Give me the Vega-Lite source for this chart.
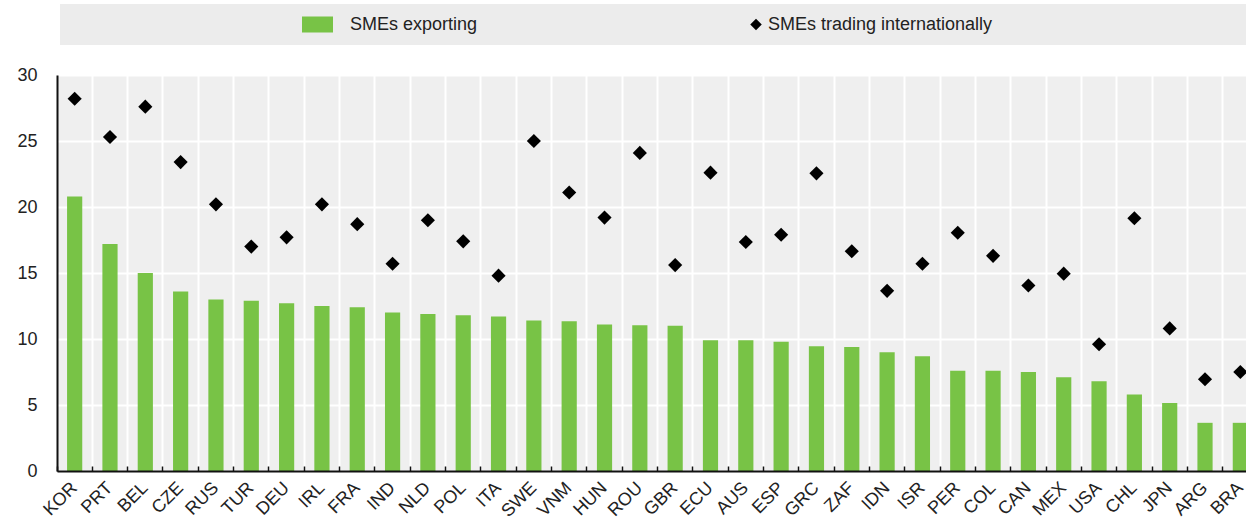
{
  "$schema": "https://vega.github.io/schema/vega-lite/v6.json",
  "width": 1189,
  "height": 396,
  "autosize": {"type": "none"},
  "padding": {"left": 57, "top": 75, "right": 0, "bottom": 51},
  "background": "white",
  "config": {
    "view": {"fill": "#efefef", "stroke": null},
    "font": "Liberation Sans",
    "axis": {"labelFont": "Liberation Sans", "labelFontSize": 18, "labelColor": "#222222", "title": null}
  },
  "data": {
    "values": [
      {"country": "KOR", "exporting": 20.8, "trading": 28.2},
      {"country": "PRT", "exporting": 17.2, "trading": 25.3},
      {"country": "BEL", "exporting": 15.0, "trading": 27.6},
      {"country": "CZE", "exporting": 13.6, "trading": 23.4},
      {"country": "RUS", "exporting": 13.0, "trading": 20.2},
      {"country": "TUR", "exporting": 12.9, "trading": 17.0},
      {"country": "DEU", "exporting": 12.7, "trading": 17.7},
      {"country": "IRL", "exporting": 12.5, "trading": 20.2},
      {"country": "FRA", "exporting": 12.4, "trading": 18.7},
      {"country": "IND", "exporting": 12.0, "trading": 15.7},
      {"country": "NLD", "exporting": 11.9, "trading": 19.0},
      {"country": "POL", "exporting": 11.8, "trading": 17.4},
      {"country": "ITA", "exporting": 11.7, "trading": 14.8},
      {"country": "SWE", "exporting": 11.4, "trading": 25.0},
      {"country": "VNM", "exporting": 11.35, "trading": 21.1},
      {"country": "HUN", "exporting": 11.1, "trading": 19.2},
      {"country": "ROU", "exporting": 11.05, "trading": 24.1},
      {"country": "GBR", "exporting": 11.0, "trading": 15.6},
      {"country": "ECU", "exporting": 9.9, "trading": 22.6},
      {"country": "AUS", "exporting": 9.9, "trading": 17.35},
      {"country": "ESP", "exporting": 9.8, "trading": 17.9},
      {"country": "GRC", "exporting": 9.45, "trading": 22.55},
      {"country": "ZAF", "exporting": 9.4, "trading": 16.65},
      {"country": "IDN", "exporting": 9.0, "trading": 13.65},
      {"country": "ISR", "exporting": 8.7, "trading": 15.7},
      {"country": "PER", "exporting": 7.6, "trading": 18.05},
      {"country": "COL", "exporting": 7.6, "trading": 16.3},
      {"country": "CAN", "exporting": 7.5, "trading": 14.05},
      {"country": "MEX", "exporting": 7.1, "trading": 14.95},
      {"country": "USA", "exporting": 6.8, "trading": 9.6},
      {"country": "CHL", "exporting": 5.8, "trading": 19.15},
      {"country": "JPN", "exporting": 5.15, "trading": 10.8},
      {"country": "ARG", "exporting": 3.65, "trading": 6.95},
      {"country": "BRA", "exporting": 3.65, "trading": 7.5}
    ]
  },
  "encoding": {
    "x": {
      "field": "country",
      "type": "nominal",
      "sort": null,
      "scale": {"range": [0, 1201], "paddingInner": 0, "paddingOuter": 0},
      "axis": {
        "bandPosition": 0,
        "grid": true,
        "gridColor": "white",
        "gridWidth": 2,
        "gridOpacity": {"condition": {"test": "datum.value === 'KOR'", "value": 0}, "value": 1},
        "domain": true,
        "domainColor": "#111111",
        "domainWidth": 2,
        "ticks": true,
        "tickColor": "#111111",
        "tickSize": -5,
        "tickWidth": 1.5,
        "labelAngle": -45,
        "labelAlign": "right",
        "labelBaseline": "middle",
        "labelPadding": 19,
        "labelOffset": 0,
        "labelOverlap": false,
        "zindex": 1
      }
    }
  },
  "layer": [
    {
      "mark": {"type": "bar", "width": {"band": 0.43}},
      "encoding": {
        "y": {
          "field": "exporting",
          "type": "quantitative",
          "scale": {"domain": [0, 30], "nice": false},
          "axis": {
            "values": [0, 5, 10, 15, 20, 25, 30],
            "grid": true,
            "gridColor": "white",
            "gridWidth": 2,
            "domain": true,
            "domainColor": "#111111",
            "domainWidth": 2,
            "ticks": false,
            "tickSize": 0,
            "labelPadding": 20,
            "zindex": 0
          }
        },
        "color": {
          "datum": "SMEs exporting",
          "type": "nominal",
          "scale": {"domain": ["SMEs exporting", "SMEs trading internationally"], "range": ["#78c346", "#000000"]},
          "legend": {
            "orient": "none",
            "legendX": 3,
            "legendY": -71,
            "direction": "horizontal",
            "columns": 2,
            "title": " ",
            "titleOrient": "right",
            "titleFontSize": 1,
            "titlePadding": 242,
            "fillColor": "#ececec",
            "padding": 11.5,
            "columnPadding": 12,
            "symbolSize": 324,
            "symbolStrokeWidth": 0,
            "symbolOffset": 237,
            "labelOffset": 23.5,
            "labelFont": "Liberation Sans",
            "labelFontSize": 18,
            "labelColor": "#222222",
            "labelLimit": 500,
            "encode": {
              "symbols": {
                "update": {
                  "shape": {"signal": "datum.value === 'SMEs exporting' ? 'M-1.722,-0.889H1.722V0.889H-1.722Z' : 'M2.278,-0.639L2.917,0L2.278,0.639L1.639,0Z'"},
                  "strokeWidth": {"value": 0}
                }
              }
            }
          }
        }
      }
    },
    {
      "mark": {"type": "point", "shape": "diamond", "filled": true, "size": 200, "opacity": 1},
      "encoding": {
        "y": {"field": "trading", "type": "quantitative"},
        "color": {"datum": "SMEs trading internationally", "type": "nominal"}
      }
    }
  ]
}
